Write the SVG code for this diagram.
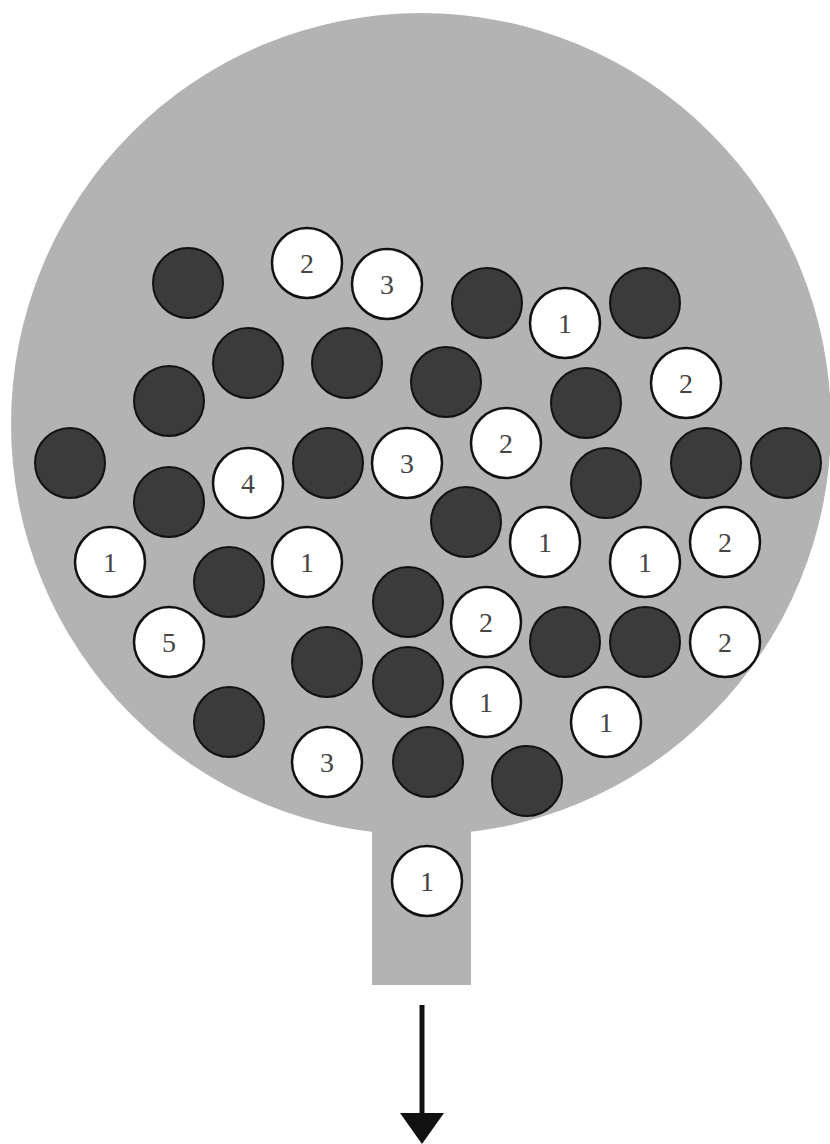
<svg xmlns="http://www.w3.org/2000/svg" width="830" height="1144" viewBox="0 0 830 1144">
<style>
.d{fill:#3b3b3b;stroke:#111;stroke-width:2}
.w{fill:#fff;stroke:#111;stroke-width:2.5}
.t{font-family:"Liberation Serif","DejaVu Serif",serif;font-size:28px;fill:#444;text-anchor:middle;dominant-baseline:central}
</style>
<rect width="830" height="1144" fill="#fff"/>
<g id="vessel" fill="#b3b3b3">
<ellipse cx="421" cy="424" rx="410" ry="411"/>
<rect x="372" y="790" width="99" height="195"/>
</g>
<g id="dark-balls">
<circle class="d" cx="188" cy="283" r="35"/>
<circle class="d" cx="487" cy="303" r="35"/>
<circle class="d" cx="645" cy="303" r="35"/>
<circle class="d" cx="248" cy="363" r="35"/>
<circle class="d" cx="347" cy="363" r="35"/>
<circle class="d" cx="446" cy="382" r="35"/>
<circle class="d" cx="586" cy="403" r="35"/>
<circle class="d" cx="169" cy="401" r="35"/>
<circle class="d" cx="70" cy="463" r="35"/>
<circle class="d" cx="328" cy="463" r="35"/>
<circle class="d" cx="606" cy="483" r="35"/>
<circle class="d" cx="706" cy="463" r="35"/>
<circle class="d" cx="786" cy="463" r="35"/>
<circle class="d" cx="169" cy="502" r="35"/>
<circle class="d" cx="229" cy="582" r="35"/>
<circle class="d" cx="466" cy="522" r="35"/>
<circle class="d" cx="408" cy="602" r="35"/>
<circle class="d" cx="327" cy="662" r="35"/>
<circle class="d" cx="408" cy="682" r="35"/>
<circle class="d" cx="565" cy="642" r="35"/>
<circle class="d" cx="645" cy="642" r="35"/>
<circle class="d" cx="229" cy="722" r="35"/>
<circle class="d" cx="428" cy="762" r="35"/>
<circle class="d" cx="527" cy="781" r="35"/>
</g>
<g id="ball-2a"><circle class="w" cx="307" cy="263" r="35"/><text class="t" x="307" y="263">2</text></g>
<g id="ball-3a"><circle class="w" cx="387" cy="284" r="35"/><text class="t" x="387" y="284">3</text></g>
<g id="ball-1a"><circle class="w" cx="565" cy="323" r="35"/><text class="t" x="565" y="323">1</text></g>
<g id="ball-2b"><circle class="w" cx="686" cy="383" r="35"/><text class="t" x="686" y="383">2</text></g>
<g id="ball-4"><circle class="w" cx="248" cy="483" r="35"/><text class="t" x="248" y="483">4</text></g>
<g id="ball-3b"><circle class="w" cx="407" cy="463" r="35"/><text class="t" x="407" y="463">3</text></g>
<g id="ball-2c"><circle class="w" cx="506" cy="443" r="35"/><text class="t" x="506" y="443">2</text></g>
<g id="ball-1b"><circle class="w" cx="110" cy="562" r="35"/><text class="t" x="110" y="562">1</text></g>
<g id="ball-1c"><circle class="w" cx="307" cy="562" r="35"/><text class="t" x="307" y="562">1</text></g>
<g id="ball-1d"><circle class="w" cx="545" cy="542" r="35"/><text class="t" x="545" y="542">1</text></g>
<g id="ball-1e"><circle class="w" cx="645" cy="562" r="35"/><text class="t" x="645" y="562">1</text></g>
<g id="ball-2d"><circle class="w" cx="725" cy="542" r="35"/><text class="t" x="725" y="542">2</text></g>
<g id="ball-5"><circle class="w" cx="169" cy="642" r="35"/><text class="t" x="169" y="642">5</text></g>
<g id="ball-2e"><circle class="w" cx="486" cy="622" r="35"/><text class="t" x="486" y="622">2</text></g>
<g id="ball-2f"><circle class="w" cx="725" cy="642" r="35"/><text class="t" x="725" y="642">2</text></g>
<g id="ball-1f"><circle class="w" cx="486" cy="702" r="35"/><text class="t" x="486" y="702">1</text></g>
<g id="ball-1g"><circle class="w" cx="606" cy="722" r="35"/><text class="t" x="606" y="722">1</text></g>
<g id="ball-3c"><circle class="w" cx="327" cy="762" r="35"/><text class="t" x="327" y="762">3</text></g>
<g id="ball-out"><circle class="w" cx="427" cy="881" r="35"/><text class="t" x="427" y="881">1</text></g>
<g id="connectors">
<line x1="422" y1="1005" x2="422" y2="1118" stroke="#111" stroke-width="5"/>
<polygon points="400,1113 444,1113 422,1144" fill="#111"/>
</g>
</svg>
